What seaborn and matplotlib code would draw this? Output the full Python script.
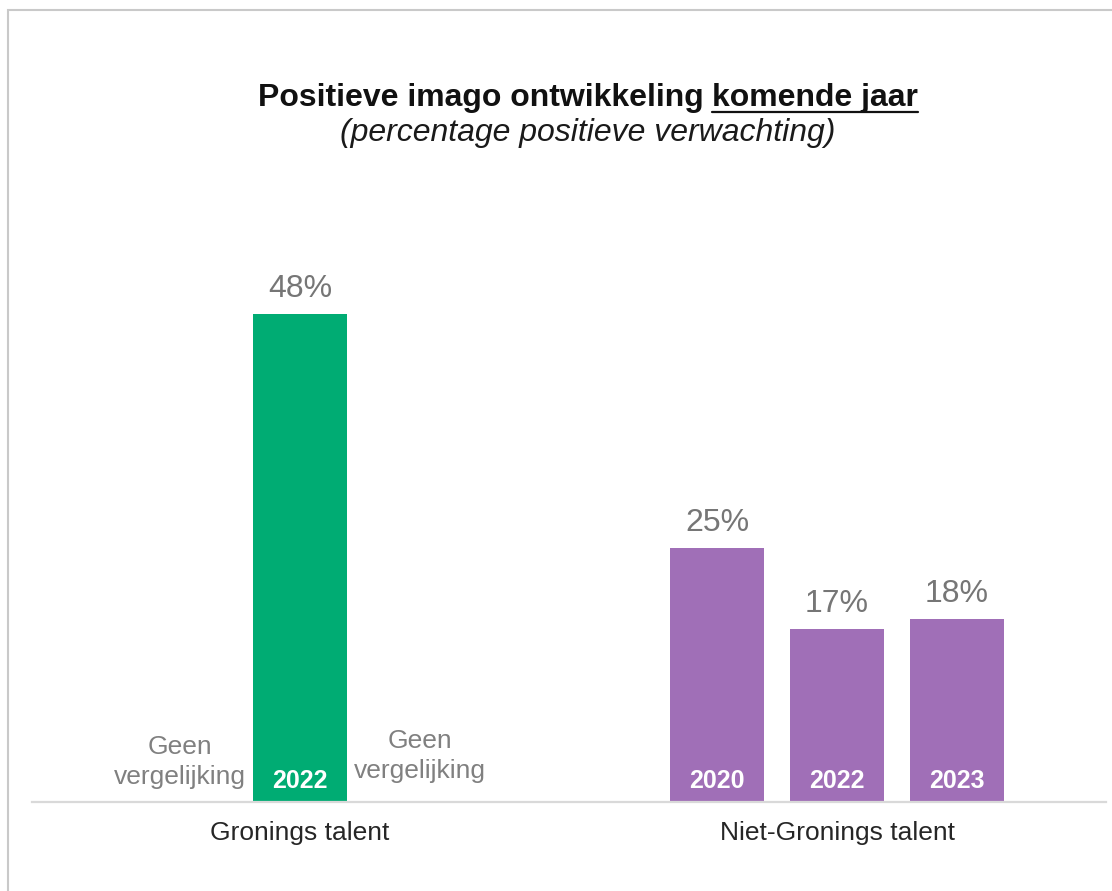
import matplotlib
matplotlib.use("Agg")
import matplotlib.pyplot as plt
import seaborn as sns
import pandas as pd
from matplotlib.patches import Rectangle
from matplotlib.lines import Line2D

# data
groups = ["Gronings talent", "Niet-Gronings talent"]
gr_years = ["2022"]
gr_values = [48]
ng_years = ["2020", "2022", "2023"]
ng_values = [25, 17, 18]
no_data_label = "Geen\nvergelijking"
title_main = "Positieve imago ontwikkeling"
title_under = "komende jaar"
subtitle = "(percentage positieve verwachting)"

green = "#00AC73"
purple = "#A06FB7"
grey_txt = "#767676"

sns.set_theme(style="white")
plt.rcParams["font.family"] = ["Liberation Sans", "DejaVu Sans"]

W, H = 1112, 891
fig = plt.figure(figsize=(W / 100, H / 100), dpi=100)
ax = fig.add_axes([31.5 / W, 1 - 802 / H, 1074 / W, 610 / H])

# slot layout: 3 slots per group, group 2 shifted
group_step = 4.475
slots = [-1, 0, 1]
rows = [dict(pos=0, value=gr_values[0], year=gr_years[0], group=groups[0])]
for s, yr, v in zip(slots, ng_years, ng_values):
    rows.append(dict(pos=group_step + s, value=v, year=yr, group=groups[1]))
df = pd.DataFrame(rows)

sns.barplot(data=df, x="pos", y="value", hue="group", palette=[green, purple],
            native_scale=True, width=0.79, dodge=False, legend=False,
            saturation=1, linewidth=0, ax=ax)

ax.set_xlim(-2.2375, group_step + 2.2375)
ax.set_ylim(0, 60)

for _, r in df.iterrows():
    ax.annotate(f"{r['value']}%", (r["pos"], r["value"]), xytext=(0, 7),
                textcoords="offset points", ha="center", va="bottom",
                fontsize=23, color=grey_txt)
    ax.annotate(r["year"], (r["pos"], 0), xytext=(0, 15),
                textcoords="offset points", ha="center", va="center",
                fontsize=18, color="white", weight="bold")

# empty slots in group 1
ax.annotate(no_data_label, (slots[0], 0), xytext=(0, 29), textcoords="offset points",
            ha="center", va="center", fontsize=19, color="#808080", linespacing=1.3)
ax.annotate(no_data_label, (slots[2], 0), xytext=(0, 33), textcoords="offset points",
            ha="center", va="center", fontsize=19, color="#808080", linespacing=1.3)

ax.set_xticks([0, group_step], groups)
ax.tick_params(axis="x", length=0, pad=14, labelsize=19, labelcolor="#262626")
ax.set_yticks([])
ax.set_xlabel("")
ax.set_ylabel("")
for side in ["left", "right", "top"]:
    ax.spines[side].set_visible(False)
ax.spines["bottom"].set_color("#d9d9d9")
ax.spines["bottom"].set_linewidth(1.6)

# title with underlined part
renderer = fig.canvas.get_renderer()
cx = 588
fs_t = 23
ty = 1 - 106 / H
t1 = fig.text(0, ty, title_main, fontsize=fs_t, weight="bold", color="#111111", va="baseline")
t2 = fig.text(0, ty, title_under, fontsize=fs_t, weight="bold", color="#111111", va="baseline")
w1 = t1.get_window_extent(renderer).width
w2 = t2.get_window_extent(renderer).width
sp = fs_t * 100 / 72 * 0.278
x0 = cx - (w1 + sp + w2) / 2
t1.set_x(x0 / W)
t2.set_x((x0 + w1 + sp) / W)
uy = 1 - 112 / H
fig.add_artist(Line2D([(x0 + w1 + sp) / W, (x0 + w1 + sp + w2) / W], [uy, uy],
                      transform=fig.transFigure, color="#111111", lw=1.6))
fig.text(cx / W, 1 - 141 / H, subtitle, fontsize=fs_t, style="italic",
         color="#1a1a1a", ha="center", va="baseline")

# outer frame
fig.add_artist(Rectangle((8 / W, -0.05), 1.2, 1.05 - 10.5 / H, transform=fig.transFigure,
                         fill=False, ec="#c9c9c9", lw=1.5, clip_on=False))

fig.savefig("out.png", dpi=100)
